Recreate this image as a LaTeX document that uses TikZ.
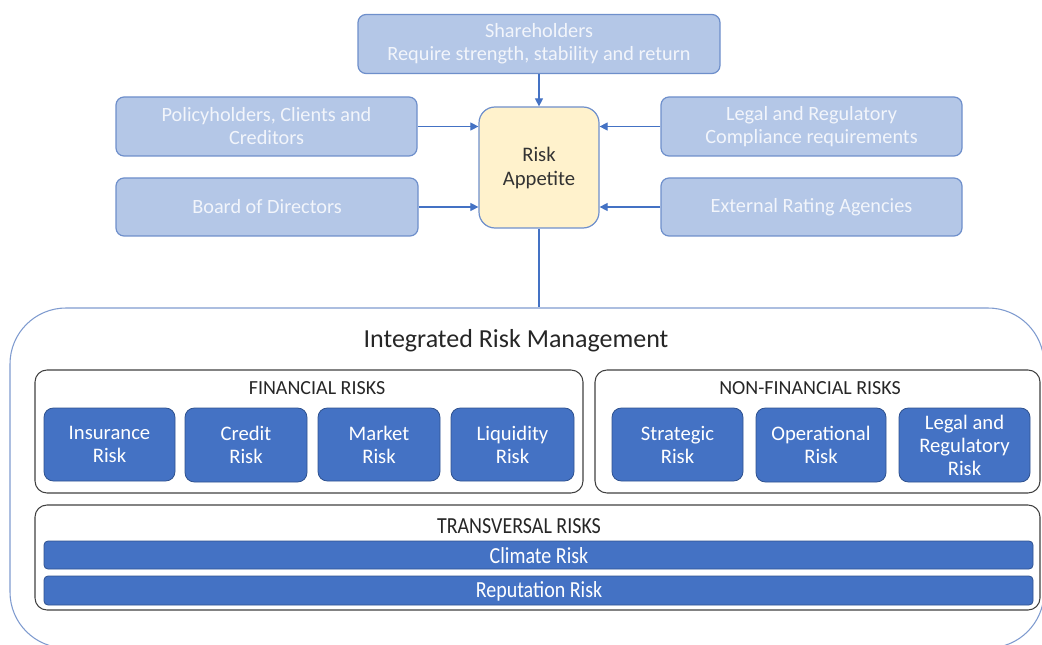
\documentclass[tikz,border=0pt]{standalone}
\usepackage{fontspec}
\setmainfont{Carlito}
\usepackage{graphicx}
\definecolor{lightbox}{HTML}{B4C7E7}
\definecolor{lightborder}{HTML}{6E8FCB}
\definecolor{lighttext}{HTML}{F2F5FB}
\definecolor{darkbox}{HTML}{4472C4}
\definecolor{darkborder}{HTML}{2F528F}
\definecolor{appfill}{HTML}{FFF2CC}
\definecolor{arrowc}{HTML}{4472C4}
\definecolor{outerc}{HTML}{7F9BCF}
\definecolor{groupc}{HTML}{404040}
\usetikzlibrary{arrows.meta}
\tikzset{
  stakebox/.style={draw=lightborder, line width=0.9pt, fill=lightbox, rounded corners=6pt,
    text=lighttext, align=center, font=\fontsize{15.2}{17.3}\selectfont, inner sep=0pt},
  appbox/.style={draw=lightborder, line width=0.9pt, fill=appfill, rounded corners=12pt,
    text=black!80, align=center, font=\fontsize{15.5}{18}\selectfont, inner sep=0pt},
  riskbox/.style={draw=darkborder, line width=0.6pt, fill=darkbox, rounded corners=7pt,
    text=white, align=center, font=\fontsize{15.5}{17.3}\selectfont, inner sep=0pt},
  barbox/.style={draw=darkborder, line width=0.6pt, fill=darkbox, rounded corners=3pt,
    text=white, inner sep=0pt},
  groupbox/.style={draw=groupc, line width=0.8pt, rounded corners=9pt, inner sep=0pt},
  grouptitle/.style={text=black!85, font=\fontsize{15}{17}\selectfont},
  feed/.style={draw=arrowc, line width=0.8pt, -{Triangle[length=6pt,width=6pt]}},
  link/.style={draw=arrowc, line width=0.8pt}
}
\begin{document}
\begin{tikzpicture}[x=0.75pt,y=-0.75pt]
\useasboundingbox (0,0) rectangle (1042,645);
% stakeholder boxes
\node[stakebox, minimum width=362*0.75pt, minimum height=59*0.75pt] (share) at (539,44) {Shareholders\\Require strength, stability and return};
\node[stakebox, minimum width=301*0.75pt, minimum height=59*0.75pt] (policy) at (266.5,126.5) {Policyholders, Clients and\\Creditors};
\node[stakebox, minimum width=302*0.75pt, minimum height=58*0.75pt] (board) at (267,207) {Board of Directors};
\node[stakebox, minimum width=301*0.75pt, minimum height=59*0.75pt] (legal) at (811.5,126.5) {Legal and Regulatory\\Compliance requirements};
\node[stakebox, minimum width=301*0.75pt, minimum height=58*0.75pt] (rating) at (811.5,207) {External Rating Agencies};
\node[appbox, minimum width=120*0.75pt, minimum height=121*0.75pt] (app) at (539,167.5) {Risk\\Appetite};
% arrows
\draw[feed] (share.south) -- (app.north);
\draw[feed] (policy.east) -- (policy.east -| app.west);
\draw[feed] (board.east) -- (board.east -| app.west);
\draw[feed] (legal.west) -- (legal.west -| app.east);
\draw[feed] (rating.west) -- (rating.west -| app.east);
% outer container
\node[draw=outerc, line width=0.8pt, rounded corners=42pt, minimum width=1034*0.75pt, minimum height=340*0.75pt, inner sep=0pt] (irm) at (527,478) {};
\draw[link] (app.south) -- (app.south |- irm.north);
\node[text=black!85, font=\fontsize{19.5}{22}\selectfont] (irmtitle) at (516,341) {Integrated Risk Management};
% groups
\node[groupbox, minimum width=548*0.75pt, minimum height=123*0.75pt] (fin) at (309,431.5) {};
\node[grouptitle] (fintitle) at (317,388) {FINANCIAL RISKS};
\node[groupbox, minimum width=445*0.75pt, minimum height=123*0.75pt] (nonfin) at (817.5,431.5) {};
\node[grouptitle] (nonfintitle) at (810,388) {NON-FINANCIAL RISKS};
\node[groupbox, minimum width=1005*0.75pt, minimum height=105*0.75pt] (trans) at (537.5,557.5) {};
\node[grouptitle] (transtitle) at (519,526) {\scalebox{1}[1.15]{TRANSVERSAL RISKS}};
% financial risks
\node[riskbox, minimum width=131*0.75pt, minimum height=73*0.75pt] (ins) at (109.5,444.5) {Insurance\\Risk};
\node[riskbox, minimum width=122*0.75pt, minimum height=74*0.75pt] (cred) at (246,445) {Credit\\Risk};
\node[riskbox, minimum width=122*0.75pt, minimum height=73*0.75pt] (mkt) at (379,444.5) {Market\\Risk};
\node[riskbox, minimum width=123*0.75pt, minimum height=73*0.75pt] (liq) at (512.5,444.5) {Liquidity\\Risk};
% non-financial risks
\node[riskbox, minimum width=131*0.75pt, minimum height=73*0.75pt] (strat) at (677.5,444.5) {Strategic\\Risk};
\node[riskbox, minimum width=130*0.75pt, minimum height=74*0.75pt] (oper) at (821,445) {Operational\\Risk};
\node[riskbox, minimum width=131*0.75pt, minimum height=74*0.75pt] (legrisk) at (964.5,445) {Legal and\\Regulatory\\Risk};
% transversal
\node[barbox, minimum width=989*0.75pt, minimum height=28*0.75pt] (clim) at (538.5,555) {};
\node[text=white, font=\fontsize{15}{17}\selectfont] (climt) at (539,556) {\scalebox{1}[1.15]{Climate Risk}};
\node[barbox, minimum width=989*0.75pt, minimum height=29*0.75pt] (rep) at (538.5,590.5) {};
\node[text=white, font=\fontsize{15}{17}\selectfont] (rept) at (539,591.5) {\scalebox{1}[1.15]{Reputation Risk}};
\end{tikzpicture}
\end{document}
